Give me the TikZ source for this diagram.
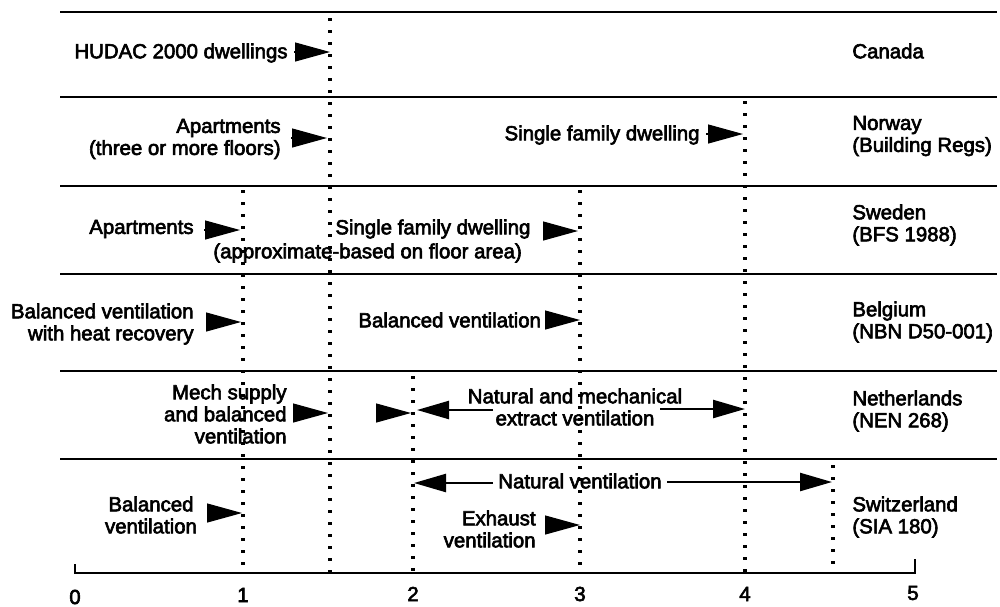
\documentclass[tikz,border=0pt]{standalone}
\usepackage{fontspec}
\setmainfont[FakeBold=3]{Liberation Sans}
\usetikzlibrary{arrows.meta,calc}
\begin{document}
\begin{tikzpicture}[x=0.5pt,y=-0.5pt,
  font=\fontsize{10.2}{11}\selectfont,
  hline/.style={line width=1.3pt},
  dotline/.style={line width=1.6pt, dash pattern=on 1.6pt off 4.4pt},
  tri/.style={-{Triangle[length=17.5pt,width=9.5pt]}, line width=0.6pt},
  longarrow/.style={-{Triangle[length=16pt,width=9pt]}, line width=1.2pt},
  lbl/.style={inner sep=0pt},
  country/.style={inner sep=0pt, anchor=west, align=left}]
\useasboundingbox (0,0) rectangle (1000,606);

% horizontal row separators
\foreach \n/\y in {0/12,1/97,2/186,3/274,4/371,5/459}{
  \coordinate (h\n a) at (60,\y);
  \coordinate (h\n b) at (997,\y);
  \draw[hline] (h\n a) -- (h\n b);
}

% axis
\coordinate (ax0t) at (75,564);
\coordinate (ax0) at (75,573);
\coordinate (ax5) at (915,573);
\coordinate (ax5t) at (915,559);
\draw[hline] (ax0t) -- (ax0) -- (ax5) -- (ax5t);
\node[lbl] (n0) at (75,597) {0};
\node[lbl] (n1) at (243,595) {1};
\node[lbl] (n2) at (413,594) {2};
\node[lbl] (n3) at (580,594) {3};
\node[lbl] (n4) at (745,594) {4};
\node[lbl] (n5) at (913,593) {5};

% vertical dotted limits
\coordinate (v15a) at (330,18);  \coordinate (v15b) at (330,573);
\coordinate (v1a)  at (243,190); \coordinate (v1b)  at (243,573);
\coordinate (v2a)  at (413,376); \coordinate (v2b)  at (413,573);
\coordinate (v3a)  at (580,190); \coordinate (v3b)  at (580,573);
\coordinate (v4a)  at (745,101); \coordinate (v4b)  at (745,573);
\coordinate (v45a) at (833,465); \coordinate (v45b) at (833,573);
\foreach \v in {v15,v1,v2,v3,v4,v45}{\draw[dotline] (\v a) -- (\v b);}

% country labels
\node[country] (canada) at (852,51) {Canada};
\node[country] (norway) at (852,136) {Norway\\(Building Regs)};
\node[country] (sweden) at (852,225) {Sweden\\(BFS 1988)};
\node[country] (belgium) at (852,322) {Belgium\\(NBN D50-001)};
\node[country] (nl) at (852,411) {Netherlands\\(NEN 268)};
\node[country] (ch) at (852,517) {Switzerland\\(SIA 180)};

% Canada
\node[lbl, anchor=east] (hudac) at (288,53) {HUDAC 2000 dwellings};
\coordinate (hudacT) at (330,52); \coordinate (hudacB) at (294,52);
\draw[tri] (hudacB) -- (hudacT);

% Norway
\node[lbl, anchor=east, align=right] (noapt) at (281,139) {Apartments\\(three or more floors)};
\coordinate (noaptT) at (327,138); \coordinate (noaptB) at (291,138);
\draw[tri] (noaptB) -- (noaptT);
\node[lbl, anchor=east] (nosfd) at (700,135) {Single family dwelling};
\coordinate (nosfdT) at (743,134); \coordinate (nosfdB) at (706,134);
\draw[tri] (nosfdB) -- (nosfdT);

% Sweden
\node[lbl, anchor=east] (seapt) at (194,229) {Apartments};
\coordinate (seaptT) at (240,230); \coordinate (seaptB) at (204,230);
\draw[tri] (seaptB) -- (seaptT);
\node[lbl, anchor=west] (sesfd) at (335,229) {Single family dwelling};
\coordinate (sesfdT) at (578,231); \coordinate (sesfdB) at (544,231);
\draw[tri] (sesfdB) -- (sesfdT);
\node[lbl, anchor=west] (seapprox) at (213,253) {(approximate-based on floor area)};

% Belgium
\node[lbl, anchor=east, align=right] (bebvhr) at (194,324) {Balanced ventilation\\with heat recovery};
\coordinate (bebvhrT) at (241,322); \coordinate (bebvhrB) at (206,322);
\draw[tri] (bebvhrB) -- (bebvhrT);
\node[lbl, anchor=west] (bebv) at (358,320) {Balanced ventilation};
\coordinate (bebvT) at (580,320); \coordinate (bebvB) at (545,320);
\draw[tri] (bebvB) -- (bebvT);

% Netherlands
\node[lbl, anchor=east, align=right] (nlmech) at (287,414) {Mech supply\\and balanced\\ventilation};
\coordinate (nlmechT) at (328,413); \coordinate (nlmechB) at (295,413);
\draw[tri] (nlmechB) -- (nlmechT);
\coordinate (nlnatT) at (411,413); \coordinate (nlnatB) at (378,413);
\draw[tri] (nlnatB) -- (nlnatT);
\node[lbl, align=center] (nlext) at (575,407) {Natural and mechanical\\extract ventilation};
\coordinate (nlL) at (417,410); \coordinate (nlLs) at (493,410);
\coordinate (nlR) at (745,409); \coordinate (nlRs) at (660,409);
\draw[longarrow] (nlLs) -- (nlL);
\draw[longarrow] (nlRs) -- (nlR);

% Switzerland
\node[lbl] (chnat) at (580,481) {Natural ventilation};
\coordinate (chL) at (414,483); \coordinate (chLs) at (493,483);
\coordinate (chR) at (832,482); \coordinate (chRs) at (667,482);
\draw[longarrow] (chLs) -- (chL);
\draw[longarrow] (chRs) -- (chR);
\node[lbl, align=center] (chbal) at (151,515) {Balanced\\ventilation};
\coordinate (chbalT) at (242,513); \coordinate (chbalB) at (209,513);
\draw[tri] (chbalB) -- (chbalT);
\node[lbl, anchor=east, align=right] (chexh) at (536,529) {Exhaust\\ventilation};
\coordinate (chexhT) at (580,525); \coordinate (chexhB) at (545,525);
\draw[tri] (chexhB) -- (chexhT);
\end{tikzpicture}
\end{document}
